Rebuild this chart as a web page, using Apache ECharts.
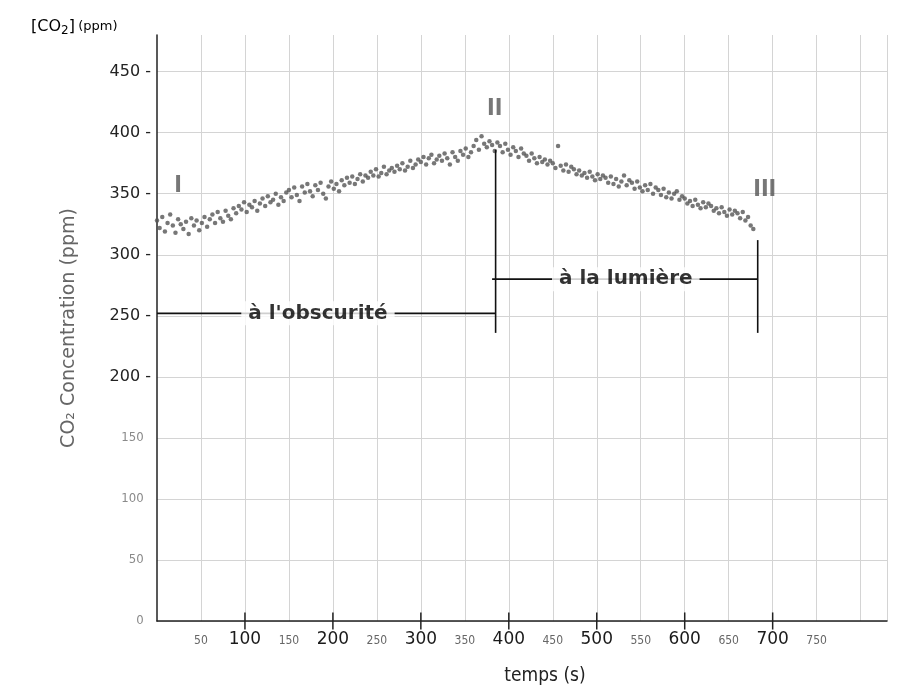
<!DOCTYPE html>
<html>
<head>
<meta charset="utf-8">
<script src="https://cdn.jsdelivr.net/npm/echarts@6/dist/echarts.min.js"></script>
<style>
  html, body { margin: 0; padding: 0; background: #fff; }
  #chart { width: 902px; height: 688px; }
</style>
</head>
<body>
<div id="chart"></div>
<script>
// readings every 3 s, CO2 in ppm
var sampleStep = 3;
var co2 = [
  328, 322, 331, 319, 326, 333, 324, 318, 329, 325,
  321, 327, 317, 330, 324, 328, 320, 326, 331, 323,
  329, 333, 326, 335, 330, 327, 336, 332, 329, 338,
  334, 340, 337, 343, 335, 341, 339, 344, 336, 342,
  346, 340, 348, 343, 345, 350, 341, 347, 344, 351,
  353, 347, 355, 349, 344, 356, 351, 358, 352, 348,
  357, 353, 359, 350, 346, 356, 360, 354, 358, 352,
  361, 357, 363, 359, 364, 358, 362, 366, 360, 365,
  363, 368, 365, 370, 364, 367, 372, 366, 369, 371,
  368, 373, 370, 375, 369, 372, 377, 371, 374, 378,
  376, 380, 374, 379, 382, 375, 378, 381, 377, 383,
  379, 374, 384, 380, 377, 385, 382, 387, 380, 384,
  389, 394, 386, 397, 391, 388, 393, 390, 385, 392,
  389, 384, 391, 386, 382, 388, 385, 380, 387, 383,
  381, 377, 383, 379, 375, 380, 376, 378, 374, 377,
  375, 371, 389, 373, 369, 374, 368, 372, 370, 366,
  369, 365, 367, 363, 368, 364, 361, 366, 362, 365,
  363, 359, 364, 358, 362, 356, 360, 365, 357, 361,
  359, 354, 360, 355, 352, 357, 353, 358, 350, 355,
  353, 349, 354, 347, 351, 346, 350, 352, 345, 348,
  346, 342, 344, 340, 345, 341, 338, 343, 339, 342,
  340, 336, 338, 334, 339, 335, 332, 337, 333, 336,
  334, 330, 335, 328, 331, 324, 321
];

var hundredTicks = [100, 200, 300, 400, 500, 600, 700];
var lastLabel = 750;

// phase markers I / II / III  [time, ppm]
var phaseNames = ['I', 'II', 'III'];
var phasePos = [[24, 356], [384, 419], [691, 353]];

// brackets: horizontal line + vertical end line for each period
var darkLine = [[0, 252], [385, 252]];
var darkEnd = [[385, 386], [385, 236]];
var lightLine = [[381, 280], [683, 280]];
var lightEnd = [[683, 312], [683, 236]];
var darkText = "à l'obscurité";
var darkTextPos = [183, 252];
var lightText = 'à la lumière';
var lightTextPos = [533, 280];

var chart = echarts.init(document.getElementById('chart'));

var points = co2.map(function (v, i) { return [i * sampleStep, v]; });

function segment(data) {
  return {
    type: 'line', data: data, symbol: 'none', silent: true, clip: false,
    lineStyle: { color: '#111', width: 1.6 }, z: 4
  };
}

var series = [
  {
    type: 'scatter',
    data: points,
    symbol: 'circle',
    symbolSize: 4.5,
    itemStyle: { color: '#555' },
    z: 3
  },
  segment(darkLine), segment(darkEnd), segment(lightLine), segment(lightEnd),
  {
    type: 'scatter',
    symbolSize: 0,
    silent: true,
    z: 6,
    data: [
      { name: darkText, value: darkTextPos },
      { name: lightText, value: lightTextPos }
    ],
    label: {
      show: true, position: 'inside', formatter: '{b}',
      fontFamily: 'DejaVu Sans', fontWeight: 'bold', fontSize: 20, color: '#000',
      backgroundColor: '#fff', padding: [2, 7]
    }
  },
  {
    type: 'scatter',
    symbolSize: 0,
    silent: true,
    z: 6,
    data: phaseNames.map(function (n, i) { return { name: n, value: phasePos[i] }; }),
    label: {
      show: true, position: 'inside', formatter: '{b}',
      fontFamily: 'DejaVu Sans Condensed', fontWeight: 'bold', fontSize: 23, color: '#555'
    }
  }
];

// short tick marks that cross the time axis at every hundred
hundredTicks.forEach(function (t) {
  series.push({
    type: 'line', data: [[t, -7], [t, 7]], symbol: 'none', silent: true, clip: false,
    lineStyle: { color: '#222', width: 1.5 }, z: 5
  });
});

var option = {
  backgroundColor: '#fff',
  animation: false,
  grid: { left: 157, right: 15, top: 35, bottom: 67 },
  xAxis: {
    type: 'value',
    min: 0, max: 830, interval: 50,
    axisLine: { lineStyle: { color: '#222', width: 1.5 } },
    axisTick: { show: false },
    splitLine: { showMinLine: false, lineStyle: { color: '#d4d4d4', width: 1 } },
    axisLabel: {
      showMaxLabel: false,
      margin: 10,
      formatter: function (v) {
        if (v === 0 || v > lastLabel) return '';
        return v % 100 === 0 ? '{big|' + v + '}' : '{small|' + v + '}';
      },
      rich: {
        big: { fontFamily: 'DejaVu Sans', fontSize: 17, color: '#1a1a1a' },
        small: { fontFamily: 'DejaVu Sans Condensed', fontSize: 12, color: '#666', padding: [4, 0, 0, 0] }
      }
    }
  },
  yAxis: {
    type: 'value',
    min: 0, max: 480, interval: 50,
    name: 'CO₂ Concentration (ppm)',
    nameLocation: 'middle',
    nameRotate: 90,
    nameGap: 78,
    nameTextStyle: { fontFamily: 'DejaVu Sans', fontSize: 19, color: '#666' },
    axisLine: { show: true, lineStyle: { color: '#222', width: 1.5 } },
    axisTick: { show: false },
    splitLine: { showMaxLine: false, lineStyle: { color: '#d4d4d4', width: 1 } },
    axisLabel: {
      showMaxLabel: false,
      margin: 6,
      formatter: function (v) {
        return v >= 200 ? '{big|' + v + ' -}' : '{small|' + v + '  }';
      },
      rich: {
        big: { fontFamily: 'DejaVu Sans', fontSize: 16, color: '#222' },
        small: { fontFamily: 'DejaVu Sans Condensed', fontSize: 13, color: '#8a8a8a' }
      }
    }
  },
  graphic: [
    {
      type: 'text', left: 31, top: 19,
      style: {
        text: '{co|[CO}{sub|2}{co|]} {u|(ppm)}',
        rich: {
          co: { fontFamily: 'DejaVu Sans', fontSize: 16, color: '#333' },
          sub: { fontFamily: 'DejaVu Sans', fontSize: 12, color: '#333', padding: [8, 0, 0, 0] },
          u: { fontFamily: 'DejaVu Sans', fontSize: 13, color: '#333' }
        }
      }
    },
    {
      type: 'text', x: 545, y: 676,
      style: {
        text: 'temps (s)', fontFamily: 'DejaVu Sans Condensed', fontSize: 19,
        fill: '#222', align: 'center', verticalAlign: 'middle'
      }
    }
  ],
  series: series
};

chart.setOption(option);
</script>
</body>
</html>
